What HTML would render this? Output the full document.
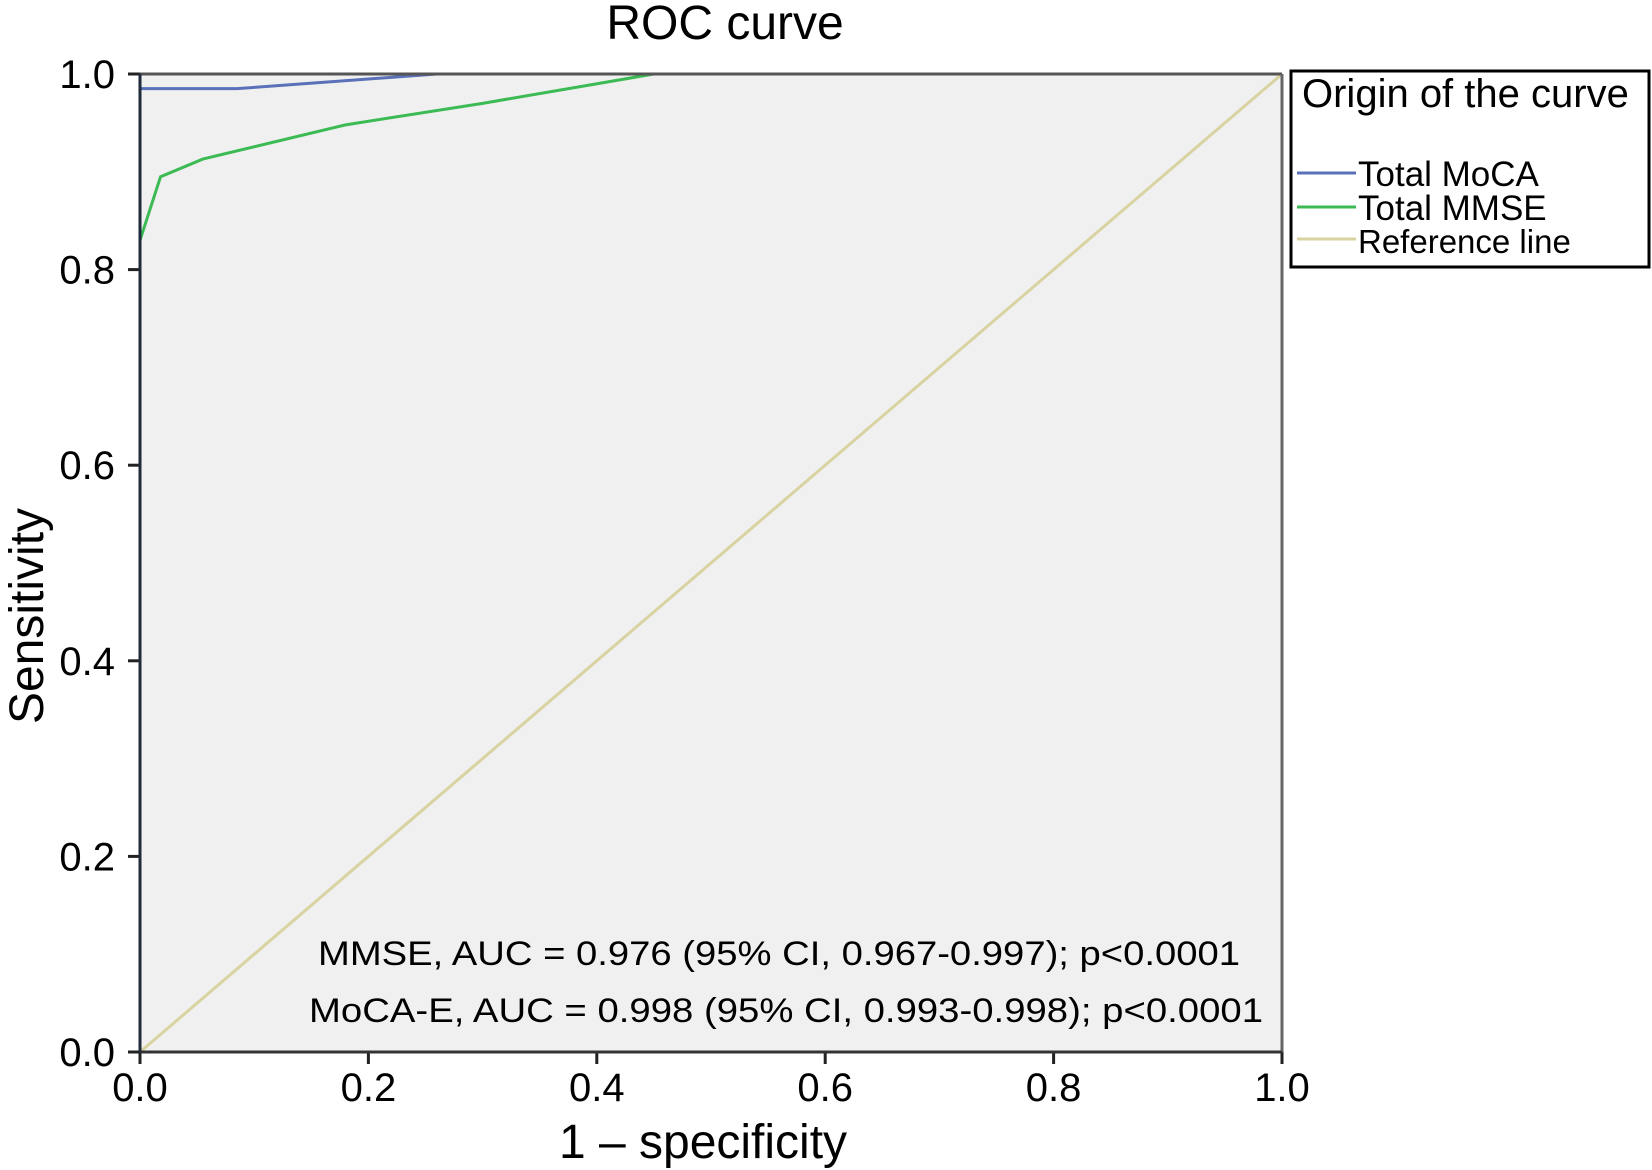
<!DOCTYPE html>
<html><head><meta charset="utf-8"><style>
html,body{margin:0;padding:0;background:#fff;}
svg{display:block;font-family:"Liberation Sans",Arial,sans-serif;}
</style></head><body>
<svg id="chart" width="1652" height="1170" viewBox="0 0 1652 1170">
<text x="725" y="39" font-size="48" text-anchor="middle">ROC curve</text>
<rect x="140" y="74" width="1142" height="978" fill="#f0f0f0"/>
<g id="ticks"></g>
<g id="series"></g>
<line x1="140" y1="74" x2="1282" y2="74" stroke="#555" stroke-width="3"/>
<line x1="1282" y1="74" x2="1282" y2="1052" stroke="#666" stroke-width="3"/>
<line x1="140" y1="1052" x2="1282" y2="1052" stroke="#333" stroke-width="3"/>
<line x1="140" y1="74" x2="140" y2="1052" stroke="#1f2a3a" stroke-width="3"/>
<text x="703" y="1158" font-size="48" text-anchor="middle">1 – specificity</text>
<text transform="translate(43,616) rotate(-90)" font-size="48" text-anchor="middle">Sensitivity</text>
<text x="779" y="965" font-size="34" text-anchor="middle" textLength="922" lengthAdjust="spacingAndGlyphs">MMSE, AUC = 0.976 (95% CI, 0.967-0.997); p&lt;0.0001</text>
<text x="786" y="1022" font-size="34" text-anchor="middle" textLength="954" lengthAdjust="spacingAndGlyphs">MoCA-E, AUC = 0.998 (95% CI, 0.993-0.998); p&lt;0.0001</text>
<g>
<rect x="1291" y="71" width="358" height="196" fill="#fff" stroke="#000" stroke-width="3"/>
<text x="1302" y="107" font-size="40">Origin of the curve</text>
<line x1="1297" y1="173" x2="1356" y2="173" stroke="#5a70b8" stroke-width="3"/>
<text x="1358" y="186" font-size="35">Total MoCA</text>
<line x1="1297" y1="207" x2="1356" y2="207" stroke="#3cba54" stroke-width="3"/>
<text x="1358" y="220" font-size="35">Total MMSE</text>
<line x1="1297" y1="239" x2="1356" y2="239" stroke="#d8d3a0" stroke-width="3"/>
<text x="1358" y="253" font-size="33">Reference line</text>
</g>
</svg>
<script>
const tickValues = [0, 0.2, 0.4, 0.6, 0.8, 1.0];
const tickLabels = ["0.0", "0.2", "0.4", "0.6", "0.8", "1.0"];
const mocaFpr = [0, 0, 0.085, 0.26, 1];
const mocaTpr = [0, 0.985, 0.985, 1.0, 1.0];
const mmseFpr = [0, 0, 0.018, 0.055, 0.18, 0.3, 0.45, 1];
const mmseTpr = [0, 0.83, 0.895, 0.913, 0.948, 0.97, 1.0, 1.0];
const refFpr = [0, 1];
const refTpr = [0, 1];

const NS = "http://www.w3.org/2000/svg";
const X0 = 140, X1 = 1282, Y0 = 1052, Y1 = 74;
function sx(v){ return X0 + v * (X1 - X0); }
function sy(v){ return Y0 - v * (Y0 - Y1); }
const ticks = document.getElementById('ticks');
tickValues.forEach((v, i) => {
  const yl = document.createElementNS(NS, 'line');
  yl.setAttribute('x1', X0 - 12); yl.setAttribute('x2', X0);
  yl.setAttribute('y1', sy(v)); yl.setAttribute('y2', sy(v));
  yl.setAttribute('stroke', '#222'); yl.setAttribute('stroke-width', '3');
  
  
  ticks.appendChild(yl);
  const yt = document.createElementNS(NS, 'text');
  yt.setAttribute('x', 115); yt.setAttribute('y', sy(v) + 14);
  yt.setAttribute('font-size', '40'); yt.setAttribute('text-anchor', 'end');
  yt.textContent = tickLabels[i];
  
  
  ticks.appendChild(yt);
  const xl = document.createElementNS(NS, 'line');
  xl.setAttribute('x1', sx(v)); xl.setAttribute('x2', sx(v));
  xl.setAttribute('y1', Y0); xl.setAttribute('y2', Y0 + 12);
  xl.setAttribute('stroke', '#222'); xl.setAttribute('stroke-width', '3');
  
  
  ticks.appendChild(xl);
  const xt = document.createElementNS(NS, 'text');
  xt.setAttribute('x', sx(v)); xt.setAttribute('y', 1101);
  xt.setAttribute('font-size', '40'); xt.setAttribute('text-anchor', 'middle');
  xt.textContent = tickLabels[i];
  
  
  ticks.appendChild(xt);
});
const series = document.getElementById('series');
function drawLine(xs, ys, color, name){
  const p = document.createElementNS(NS, 'polyline');
  p.setAttribute('points', xs.map((x, i) => sx(x) + ',' + sy(ys[i])).join(' '));
  p.setAttribute('fill', 'none'); p.setAttribute('stroke', color);
  p.setAttribute('stroke-width', '3');
  
  
  series.appendChild(p);
}
drawLine(refFpr, refTpr, '#d8d3a0', 'reference-line');
drawLine(mocaFpr, mocaTpr, '#5a70b8', 'moca-roc-line');
drawLine(mmseFpr, mmseTpr, '#3cba54', 'mmse-roc-line');
</script>
</body></html>
